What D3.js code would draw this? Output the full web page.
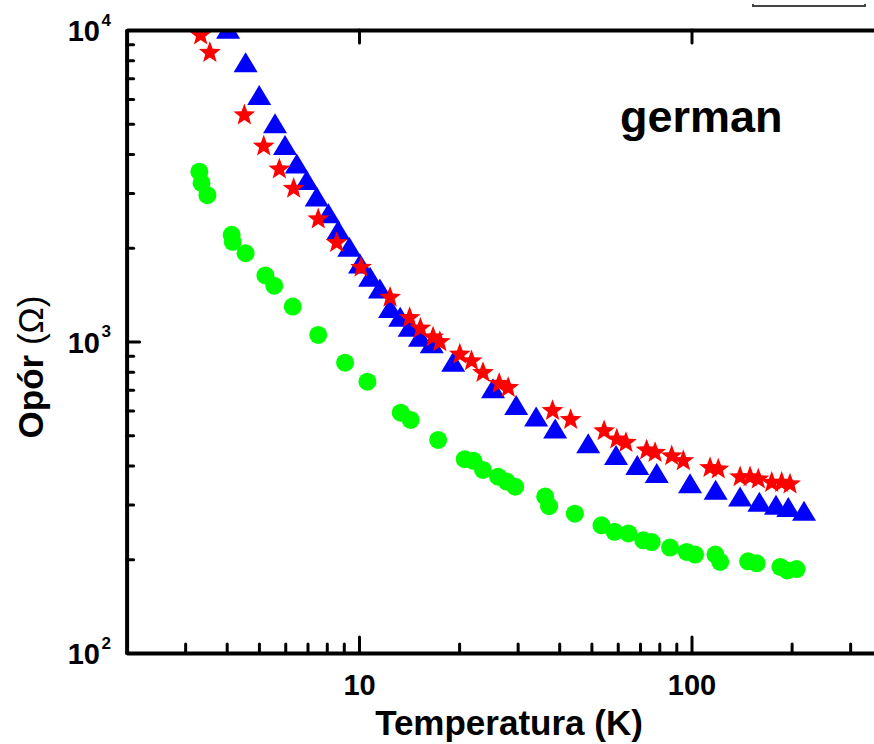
<!DOCTYPE html>
<html>
<head>
<meta charset="utf-8">
<script src="https://cdn.jsdelivr.net/npm/d3@7"></script>
<style>
  html, body { margin: 0; padding: 0; background: #fff; }
  svg { display: block; }
  text { font-family: "Liberation Sans", Arial, sans-serif; font-weight: bold; fill: #000; }
</style>
</head>
<body>
<svg id="chart" width="874" height="744"></svg>
<script>
// ---- Data ----
const greenT = [3.31, 3.36, 3.50, 4.14, 4.17, 4.56, 5.23, 5.56, 6.32, 7.54, 9.08, 10.6, 13.35, 14.3, 17.3, 20.8, 22.1, 23.6, 26.2, 27.8, 29.5, 36.3, 37.3, 44.6, 53.6, 58.7, 64.6, 71.6, 75.9, 86.2, 96.7, 102.5, 118, 122, 148, 157, 185, 194, 207];
const greenR = [3510, 3230, 2950, 2200, 2090, 1920, 1630, 1510, 1295, 1050, 855, 743, 591, 560, 483, 419, 414, 387, 368, 355, 342, 318, 296, 280, 257, 245, 242, 230, 227, 218, 211, 207, 207, 196, 197, 194, 189, 184, 186];

const blueT = [4.04, 4.56, 5.01, 5.59, 5.99, 6.50, 6.96, 7.46, 8.09, 8.66, 9.35, 10.07, 10.8, 11.56, 12.4, 13.3, 14.2, 15.25, 16.55, 19.2, 25.3, 29.7, 34.1, 38.9, 48.9, 59.3, 68.7, 78.6, 99, 118.2, 140, 160, 179.5, 195.5, 218];
const blueR = [10100, 7880, 6180, 5020, 4270, 3730, 3300, 2920, 2580, 2280, 2015, 1780, 1615, 1480, 1280, 1200, 1115, 1036, 987, 861, 708, 625, 574, 526, 471, 432, 401, 378, 351, 334, 318, 306, 299, 294, 286];

const redT = [3.34, 3.56, 4.52, 5.17, 5.76, 6.36, 7.54, 8.57, 10.14, 12.4, 14.2, 15.3, 16.7, 17.5, 20.1, 21.8, 23.6, 26.4, 28.1, 38.2, 43.3, 54.6, 59.6, 63.5, 73.3, 77.7, 87.2, 94.5, 113.7, 120.4, 140, 150, 158.8, 174.3, 186.7, 197.8];
const redR = [9690, 8520, 5370, 4265, 3600, 3120, 2490, 2090, 1740, 1395, 1200, 1110, 1040, 1005, 916, 872, 800, 738, 716, 604, 565, 520, 489, 477, 451, 443, 432, 417, 396, 392, 370, 370, 364, 355, 355, 351];

const xMajorTicks = [10, 100];
const xMinorTicks = [3, 4, 5, 6, 7, 8, 9, 20, 30, 40, 50, 60, 70, 80, 90, 200, 300, 400];
const xTickLabels = ["10", "100"];
const yMajorTicks = [100, 1000, 10000];
const yMinorTicks = [200, 300, 400, 500, 600, 700, 800, 900, 2000, 3000, 4000, 5000, 6000, 7000, 8000, 9000];
const yTickBase = "10";
const yTickExponents = ["2", "3", "4"];
const xTitle = "Temperatura (K)";
const yTitleMain = "Opór ";
const yTitleUnit = "(Ω)";
const annotation = "german";

// ---- Layout ----
const svg = d3.select("#chart");
const pLeft = 126.6, pTop = 30, pBottom = 653;
const x = d3.scaleLog().domain([2, 500]).range([pLeft, pLeft + 332.5 * Math.log10(250)]);
const y = d3.scaleLog().domain([100, 10000]).range([pBottom, pTop]);
const pRight = x.range()[1];

svg.append("defs").append("clipPath").attr("id", "plotclip")
  .append("rect").attr("x", pLeft).attr("y", pTop).attr("width", pRight - pLeft).attr("height", pBottom - pTop);

const plot = svg.append("g").attr("clip-path", "url(#plotclip)");

function starPath(R, r) {
  let p = "";
  for (let i = 0; i < 10; i++) {
    const rad = i % 2 === 0 ? R : r;
    const a = -Math.PI / 2 + i * Math.PI / 5;
    p += (i === 0 ? "M" : "L") + (rad * Math.cos(a)).toFixed(2) + "," + (rad * Math.sin(a)).toFixed(2);
  }
  return p + "Z";
}
const triPath = "M0,-10L12,10L-12,10Z";

plot.append("g").selectAll("circle").data(d3.zip(greenT, greenR)).join("circle")
  .attr("cx", d => x(d[0])).attr("cy", d => y(d[1])).attr("r", 9).attr("fill", "#00ff00");

plot.append("g").selectAll("path").data(d3.zip(blueT, blueR)).join("path")
  .attr("d", triPath)
  .attr("transform", d => `translate(${x(d[0])},${y(d[1])})`)
  .attr("fill", "#0000ff");

const sp = starPath(11.5, 4.8);
plot.append("g").selectAll("path").data(d3.zip(redT, redR)).join("path")
  .attr("d", sp)
  .attr("transform", d => `translate(${x(d[0])},${y(d[1]) + 1})`)
  .attr("fill", "#ff0000");

// ---- Axes ----
function styleAxis(g) {
  g.select(".domain").attr("stroke", "#000").attr("stroke-width", 4);
  g.selectAll(".tick line").attr("stroke", "#000").attr("stroke-width", 3).attr("stroke-linecap", "round");
}

svg.append("g").attr("transform", `translate(0,${pBottom})`)
  .call(d3.axisBottom(x).tickValues(xMinorTicks).tickFormat("").tickSizeInner(-9).tickSizeOuter(0))
  .call(g => { styleAxis(g); g.select(".domain").remove(); });
svg.append("g").attr("transform", `translate(0,${pBottom})`)
  .call(d3.axisBottom(x).tickValues(xMajorTicks).tickFormat((d, i) => xTickLabels[i])
        .tickSizeInner(-16).tickSizeOuter(0).tickPadding(21))
  .call(g => { styleAxis(g); g.selectAll("text").attr("font-size", 29).attr("font-family", "Liberation Sans, Arial, sans-serif").attr("font-weight", "bold"); });

svg.append("g").attr("transform", `translate(0,${pTop})`)
  .call(d3.axisTop(x).tickValues(xMajorTicks).tickFormat("").tickSizeInner(-13).tickSizeOuter(0))
  .call(g => styleAxis(g));

svg.append("g").attr("transform", `translate(${pLeft},0)`)
  .call(d3.axisLeft(y).tickValues(yMinorTicks).tickFormat("").tickSizeInner(-7).tickSizeOuter(0))
  .call(g => { styleAxis(g); g.select(".domain").remove(); });
const yMajorG = svg.append("g").attr("transform", `translate(${pLeft},0)`)
  .call(d3.axisLeft(y).tickValues(yMajorTicks).tickFormat("").tickSizeInner(-13).tickSizeOuter(0))
  .call(g => styleAxis(g));
yMajorG.selectAll(".tick").each(function(d, i) {
  const t = d3.select(this);
  t.selectAll("text").remove();
  t.append("text").attr("x", -(pLeft - 100)).attr("y", 10.5).attr("text-anchor", "end")
    .attr("font-size", 29).attr("fill", "#000").text(yTickBase);
  t.append("text").attr("x", -(pLeft - 101.5)).attr("y", -5).attr("text-anchor", "start")
    .attr("font-size", 17).attr("fill", "#000").text(yTickExponents[i]);
});

svg.append("line").attr("x1", pRight).attr("x2", pRight).attr("y1", pTop).attr("y2", pBottom)
  .attr("stroke", "#000").attr("stroke-width", 4);

// ---- Titles ----
svg.append("text").attr("x", 509).attr("y", 735).attr("text-anchor", "middle")
  .attr("font-size", 35).text(xTitle);

const yt = svg.append("text").attr("transform", "translate(43,367) rotate(-90)")
  .attr("text-anchor", "middle").attr("font-size", 35);
yt.append("tspan").text(yTitleMain);
yt.append("tspan").attr("font-weight", "normal").text(yTitleUnit);

svg.append("text").attr("x", 620).attr("y", 132).attr("font-size", 45).text(annotation);

// cropped legend box fragment at the top edge
svg.append("path").attr("d", "M753,4V6H865V4")
  .attr("fill", "none").attr("stroke", "#444").attr("stroke-width", 2);
</script>
</body>
</html>
